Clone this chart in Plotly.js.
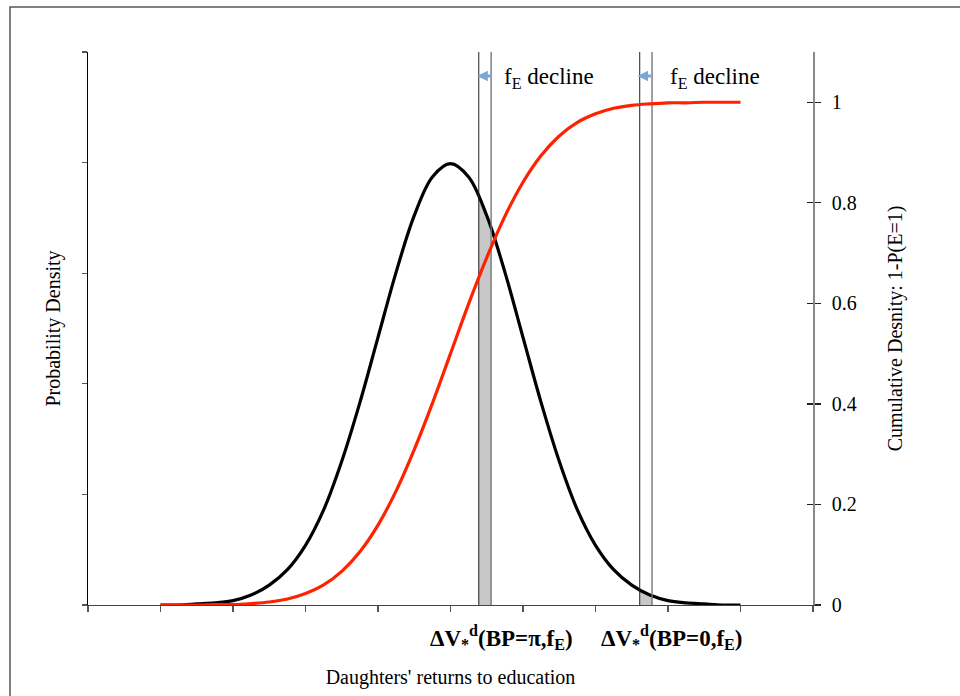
<!DOCTYPE html>
<html>
<head>
<meta charset="utf-8">
<script src="https://cdn.plot.ly/plotly-3.0.1.min.js"></script>
<style>html,body{margin:0;padding:0;background:#fff;}#chart{width:960px;height:696px;}</style>
</head>
<body>
<div id="chart"></div>
<script>
// Returns to education (x)
const xVals = [1,1.25,1.5,1.75,2,2.25,2.5,2.75,3,3.25,3.5,3.75,4,4.25,4.5,4.75,5,5.25,5.5,5.75,6,6.25,6.5,6.75,7,7.25,7.5,7.75,8,8.25,8.5,8.75,9];
// Probability density (left axis)
const density = [0.000,0.000,0.001,0.002,0.004,0.009,0.018,0.032,0.054,0.086,0.130,0.183,0.242,0.301,0.352,0.387,0.399,0.387,0.352,0.301,0.242,0.183,0.130,0.086,0.054,0.032,0.018,0.009,0.004,0.002,0.001,0.000,0.000];
// Cumulative density 1-P(E=1) (right axis)
const cumulative = [0.000,0.000,0.000,0.001,0.001,0.003,0.006,0.012,0.023,0.040,0.067,0.106,0.159,0.227,0.309,0.401,0.500,0.599,0.691,0.773,0.841,0.894,0.933,0.960,0.977,0.988,0.994,0.997,0.999,0.999,1.000,1.000,1.000];
// Shaded bands (decline of f_E)
const shade1X = [5.39,5.475,5.56];
const shade1Y = [0.369,0.356,0.341];
const shade2X = [7.61,7.695,7.78];
const shade2Y = [0.0131,0.0106,0.0083];
const bandLines = [5.39,5.56,7.61,7.78];
const bandTop = 0.5;
// Axis ticks
const xTicks = [0,1,2,3,4,5,6,7,8,9,10];
const leftTicks = [0,0.1,0.2,0.3,0.4,0.5];
const rightTicks = [0,0.2,0.4,0.6,0.8,1];
const rightTickText = ['0','0.2','0.4','0.6','0.8','1'];
const labelA = '<b>ΔV<sub>*</sub><sup>d</sup>(BP=π,f<sub>E</sub>)</b>';
const labelB = '<b>ΔV<sub>*</sub><sup>d</sup>(BP=0,f<sub>E</sub>)</b>';
const labelX = [5.71, 8.06];
const declineX = [5.71, 8.0];
const arrowX = [5.37, 7.58];

const serif = 'Liberation Serif';

const traces = [];
traces.push({x: shade1X, y: shade1Y, type:'scatter', mode:'lines', fill:'tozeroy', fillcolor:'#c8c8c8', line:{color:'#888', width:1}, hoverinfo:'skip', showlegend:false});
traces.push({x: shade2X, y: shade2Y, type:'scatter', mode:'lines', fill:'tozeroy', fillcolor:'#c8c8c8', line:{color:'#888', width:1}, hoverinfo:'skip', showlegend:false});
traces.push({x: xVals, y: density, type:'scatter', mode:'lines', line:{color:'#000', width:3.2, shape:'spline'}, name:'Probability Density', showlegend:false});
traces.push({x: xVals, y: cumulative, type:'scatter', mode:'lines', yaxis:'y2', line:{color:'#ff2200', width:3.2, shape:'spline'}, name:'Cumulative Density', showlegend:false});
bandLines.forEach((v, i) => {
  traces.push({x:[v, v], y:[0, bandTop], type:'scatter', mode:'lines', line:{color: i % 2 === 0 ? '#222' : '#777', width: i % 2 === 0 ? 1 : 1.4}, hoverinfo:'skip', showlegend:false});
});
// invisible companion on the tick-only axis so it gets drawn
traces.push({x: xVals, y: cumulative, type:'scatter', mode:'markers', yaxis:'y3', marker:{opacity:0, size:1}, hoverinfo:'skip', showlegend:false});

const annotations = [];
arrowX.forEach(v => {
  annotations.push({x: v, y: 0.9566, xref:'x', yref:'paper', text:'', showarrow:true, ax:15, ay:0, arrowcolor:'#7aa6d8', arrowwidth:3, arrowhead:2, arrowsize:0.7});
});
declineX.forEach(v => {
  annotations.push({x: v, y: 0.953, xref:'x', yref:'paper', xanchor:'left', yanchor:'middle', text:'f<sub>E</sub> decline', showarrow:false, font:{family:serif, size:23, color:'#000'}});
});
annotations.push({x: labelX[0], y: -0.058, xref:'x', yref:'paper', xanchor:'center', yanchor:'middle', text: labelA, showarrow:false, font:{family:serif, size:23, color:'#000'}});
annotations.push({x: labelX[1], y: -0.058, xref:'x', yref:'paper', xanchor:'center', yanchor:'middle', text: labelB, showarrow:false, font:{family:serif, size:23, color:'#000'}});

const layout = {
  width: 960, height: 696,
  margin: {l:88, r:147, t:52, b:91},
  paper_bgcolor:'#fff', plot_bgcolor:'#fff',
  font: {family: serif, size: 20, color:'#000'},
  showlegend:false,
  xaxis: {range:[0,10], tickvals:xTicks, showticklabels:false, ticks:'outside', ticklen:6, tickcolor:'#555', tickwidth:1.2,
    showline:true, linecolor:'#444', linewidth:1.3, showgrid:false, zeroline:false, fixedrange:true,
    title:{text:"Daughters' returns to education", font:{family:serif, size:20}, standoff:58}, automargin:true},
  yaxis: {range:[0,0.5], tickvals:leftTicks, showticklabels:false, ticks:'outside', ticklen:5, tickcolor:'#555', tickwidth:1.2,
    showline:true, linecolor:'#000', linewidth:1.5, showgrid:false, zeroline:false, fixedrange:true,
    title:{text:'Probability Density', font:{family:serif, size:20}, standoff:15}, automargin:true},
  yaxis2: {range:[0,1.1], overlaying:'y', side:'right', anchor:'x', tickvals:rightTicks, ticktext:rightTickText,
    ticks:'outside', ticklen:6, tickcolor:'#222', tickwidth:1.2, ticklabelstandoff:7,
    showline:true, linecolor:'#888', linewidth:1.8, showgrid:false, zeroline:false, fixedrange:true,
    tickfont:{family:serif, size:20, color:'#000'},
    title:{text:'Cumulative Desnity: 1-P(E=1)', font:{family:serif, size:20}, standoff:32}, automargin:true},
  yaxis3: {range:[0,1.1], overlaying:'y', side:'right', anchor:'x', tickvals:rightTicks, showticklabels:false,
    ticks:'inside', ticklen:6, tickcolor:'#222', tickwidth:1.2, showline:false, showgrid:false, zeroline:false, fixedrange:true},
  annotations: annotations,
  shapes: [{type:'rect', xref:'paper', yref:'paper', x0:-0.1076, x1:1.5, y0:-0.5, y1:1.0814, line:{color:'#555', width:1.5}, fillcolor:'rgba(0,0,0,0)', layer:'below'}]
};

Plotly.newPlot('chart', traces, layout, {displayModeBar:false, staticPlot:true});
</script>
</body>
</html>
